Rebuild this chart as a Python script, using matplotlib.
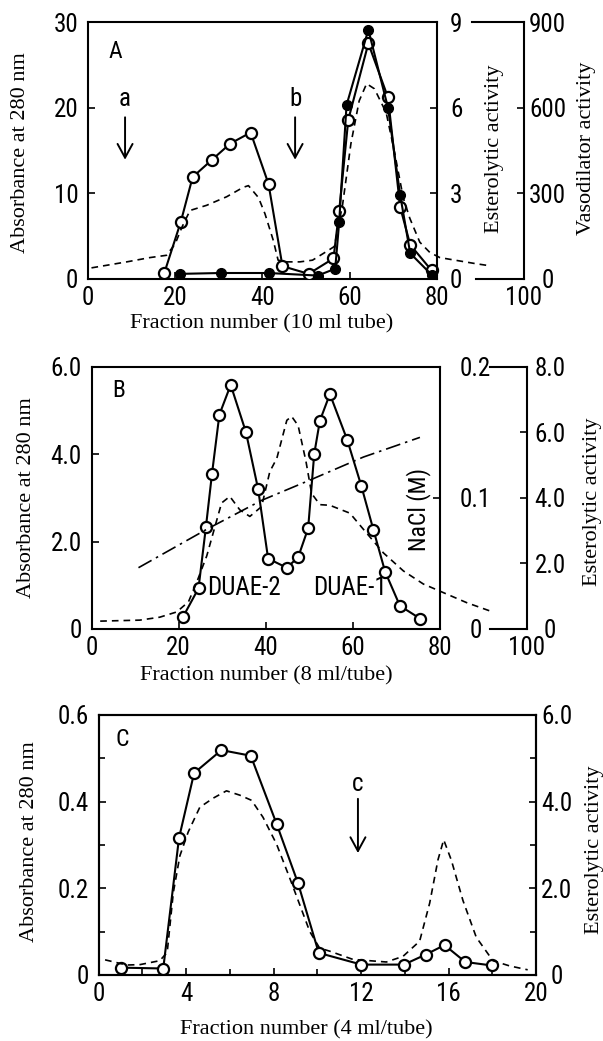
import matplotlib
matplotlib.use("Agg")
import matplotlib.pyplot as plt
from matplotlib import font_manager as fm

W, H = 603, 1041

# ---- Panel A: 10 ml fractions ----
a_abs_x = [17.5, 21.3, 24.0, 28.4, 32.6, 37.3, 41.4, 44.6, 50.6, 56.3, 57.6, 59.7, 64.3, 68.8, 71.6, 73.9, 78.8]
a_abs_y = [0.7, 6.7, 11.9, 13.9, 15.8, 17.1, 11.1, 1.5, 0.6, 2.4, 7.9, 18.6, 27.5, 21.2, 8.4, 4.0, 1.0]
a_vaso_x = [21.2, 30.5, 41.4, 52.7, 56.7, 57.6, 59.3, 64.3, 68.8, 71.6, 73.9, 78.8]
a_vaso_y = [18, 21, 21, 12, 36, 198, 609, 873, 600, 294, 90, 15]
a_est_x = [0.8, 8.9, 14.2, 18.0, 20.0, 21.5, 23.4, 27.2, 31.8, 35.6, 36.8, 39.1, 40.6, 42.5, 43.6,
           45.6, 48.6, 51.5, 55.3, 56.5, 58.4, 60.3, 62.2, 63.9, 65.7, 68.4, 70.3, 72.3, 73.8,
           76.1, 78.4, 80.7, 83.0, 88.8, 91.4]
a_est_y = [0.39, 0.6, 0.75, 0.83, 1.23, 1.8, 2.4, 2.58, 2.88, 3.21, 3.27, 2.85, 2.28, 1.35, 0.66,
           0.6, 0.6, 0.66, 1.02, 1.14, 2.61, 4.74, 6.24, 6.84, 6.66, 5.82, 4.44, 2.85, 2.13,
           1.29, 0.93, 0.75, 0.69, 0.54, 0.48]
a_arrow_x = [8.5, 47.5]
a_arrow_lbl = ["a", "b"]

# ---- Panel B: 8 ml fractions ----
b_abs_x = [21.0, 24.6, 26.3, 27.7, 29.4, 32.0, 35.5, 38.3, 40.6, 44.9, 47.5, 49.8, 51.2, 52.5,
           54.8, 58.8, 62.0, 64.8, 67.5, 70.9, 75.5]
b_abs_y = [0.27, 0.93, 2.33, 3.55, 4.9, 5.58, 4.5, 3.2, 1.61, 1.40, 1.64, 2.30, 4.0, 4.76,
           5.37, 4.32, 3.28, 2.27, 1.31, 0.53, 0.24]
b_est_x = [2.0, 11.1, 15.7, 19.6, 22.3, 24.2, 26.5, 28.4, 29.9, 31.8, 34.1, 36.4, 39.1, 41.0,
           42.6, 44.9, 46.0, 47.5, 49.3, 50.6, 52.5, 54.8, 59.4, 62.5, 67.1, 71.7, 76.3, 86.3, 91.6]
b_est_y = [0.24, 0.27, 0.36, 0.52, 0.83, 1.43, 2.23, 3.13, 3.84, 4.04, 3.63, 3.43, 3.73, 4.8,
           5.2, 6.36, 6.48, 6.2, 5.11, 4.13, 3.79, 3.77, 3.53, 3.04, 2.32, 1.77, 1.37, 0.8, 0.55]
b_nacl_x = [10.8, 26.5, 39.1, 50.6, 62.5, 75.5]
b_nacl_y = [0.0467, 0.076, 0.098, 0.114, 0.131, 0.146]

# ---- Panel C: 4 ml fractions ----
c_abs_x = [1.01, 2.96, 3.68, 4.37, 5.62, 6.96, 8.14, 9.12, 10.07, 12.02, 13.96, 14.95, 15.82, 16.77, 17.98]
c_abs_y = [0.017, 0.015, 0.316, 0.466, 0.519, 0.506, 0.349, 0.212, 0.051, 0.024, 0.024, 0.047, 0.069, 0.030, 0.022]
c_est_x = [0.3, 1.29, 1.9, 2.8, 3.14, 3.42, 3.72, 4.1, 4.63, 5.24, 5.85, 6.46, 7.0, 7.52, 8.14,
           8.74, 9.2, 9.66, 10.11, 10.57, 11.63, 13.16, 13.92, 14.68, 15.14, 15.52, 15.78,
           16.13, 16.66, 17.27, 18.03, 18.79, 19.62]
c_est_y = [0.35, 0.23, 0.24, 0.33, 0.52, 1.9, 2.75, 3.3, 3.87, 4.08, 4.25, 4.15, 4.03, 3.64, 3.02,
           2.24, 1.62, 1.0, 0.62, 0.55, 0.36, 0.30, 0.43, 0.78, 1.66, 2.66, 3.12,
           2.65, 1.72, 0.87, 0.33, 0.21, 0.12]
c_arrow_x = 11.86

# pick a narrow sans for the typewriter-like digits if one is installed
NARROW = {"family": ["DejaVu Sans"], "stretch": "normal"}
_fonts = fm.fontManager.ttflist
_names = {f.name for f in _fonts}
for cand in ["Liberation Sans Narrow", "Roboto Condensed", "Open Sans Condensed",
             "Noto Sans Condensed", "DejaVu Sans Condensed", "Arial Narrow"]:
    if cand in _names:
        NARROW = {"family": [cand, "DejaVu Sans"], "stretch": "normal"}
        break
else:
    for f in _fonts:
        if f.name in ("DejaVu Sans", "Noto Sans", "Roboto", "Open Sans") and \
                str(f.stretch) in ("condensed", "semi-condensed", "extra-condensed"):
            NARROW = {"family": [f.name, "DejaVu Sans"], "stretch": str(f.stretch)}
            break

plt.rcParams["font.family"] = NARROW["family"]
plt.rcParams["font.stretch"] = NARROW["stretch"]
plt.rcParams["font.size"] = 18
SERIF = ["Liberation Serif", "DejaVu Serif"]
LW = 1.5
TICK_FS = 18
DASH = (0, (4, 3))
DASHDOT = (0, (9, 3, 1.5, 3))

fig = plt.figure(figsize=(W / 100, H / 100), dpi=100)


def box(l, t, r, b):
    return [l / W, 1 - b / H, (r - l) / W, (b - t) / H]


def ftext(x, y, s, **kw):
    fig.text(x / W, 1 - y / H, s, ha="center", va="center", **kw)


def serif_label(x, y, s, vertical=True):
    ftext(x, y, s, rotation=90 if vertical else 0, family=SERIF, stretch="normal", fontsize=16)


def style(ax, pad=7):
    ax.tick_params(direction="in", length=5, width=1.2, pad=pad, labelsize=TICK_FS)
    ax.tick_params(which="minor", direction="in", length=4, width=1.2)
    for s in ax.spines.values():
        s.set_linewidth(LW)


def center_right_labels(ax, pad):
    # right-hand scales in the original have their numbers centred in a column
    ax.tick_params(axis="y", which="major", pad=pad)
    for t in ax.get_yticklabels():
        t.set_horizontalalignment("center")


def right_axis(host, pos, lim, ticks, labels, pad):
    a = host.twinx()
    a.set_ylim(*lim)
    for s in ["left", "top", "bottom"]:
        a.spines[s].set_visible(False)
    a.spines["right"].set_position(("axes", pos))
    a.set_yticks(ticks)
    a.set_yticklabels(labels)
    style(a)
    center_right_labels(a, pad)
    return a


def split_frame(ax, ylim, gap_start):
    ax.set_xlim(0, 100)
    ax.set_ylim(*ylim)
    ax.spines["top"].set_visible(False)
    ax.spines["right"].set_visible(False)
    ax.spines["bottom"].set_bounds(0, 80)
    ax.axhline(ylim[1], 0, 0.8, color="k", lw=LW, clip_on=False)
    ax.axhline(ylim[0], gap_start, 1.0, color="k", lw=LW, clip_on=False)
    ax.set_xticks([0, 20, 40, 60, 80, 100])
    style(ax)
    ax.tick_params(axis="x", pad=5)


def arrow(ax, x, y0, y1, lbl, ylbl):
    ax.annotate("", xy=(x, y1), xytext=(x, y0),
                arrowprops=dict(arrowstyle="->,head_length=0.55,head_width=0.3", lw=1.4, color="k"))
    ax.text(x, ylbl, lbl, ha="center", va="center", fontsize=18)


# ---------------- Panel A ----------------
axA = fig.add_axes(box(88, 22, 524, 279))
split_frame(axA, (0, 30), 0.89)
axA.set_yticks([0, 10, 20, 30])
axA2 = right_axis(axA, 0.8, (0, 9), [0, 3, 6, 9], ["0", "3", "6", "9"], 14)
axA3 = right_axis(axA, 1.0, (0, 900), [0, 300, 600, 900], ["0", "300", "600", "900"], 17)
axA3.axhline(900, 0.88, 1.0, color="k", lw=LW, clip_on=False)

axA.plot(a_abs_x, a_abs_y, "-o", color="k", mfc="white", ms=8, mew=1.6, lw=LW, zorder=3)
axA3.plot(a_vaso_x, a_vaso_y, "-o", color="k", mfc="k", ms=7, lw=LW)
axA2.plot(a_est_x, a_est_y, ls=DASH, color="k", lw=1.2)
axA.text(6.2, 26.6, "A", ha="center", va="center", fontsize=17)
for x, lbl in zip(a_arrow_x, a_arrow_lbl):
    arrow(axA, x, 19.2, 13.6, lbl, 21.0)

serif_label(21, 153, "Absorbance at 280 nm")
serif_label(494, 149, "Esterolytic activity")
serif_label(586, 148, "Vasodilator activity")
serif_label(262, 324, "Fraction number (10 ml tube)", vertical=False)

# ---------------- Panel B ----------------
axB = fig.add_axes(box(91.5, 366.5, 526.5, 629))
split_frame(axB, (0, 6), 0.915)
axB.set_yticks([0, 2, 4, 6])
axB.set_yticklabels(["0", "2.0", "4.0", "6.0"])
axB2 = right_axis(axB, 0.8, (0, 0.2), [0, 0.1, 0.2], ["0", "0.1", "0.2"], 26)
axB3 = right_axis(axB, 1.0, (0, 8), [0, 2, 4, 6, 8], ["0", "2.0", "4.0", "6.0", "8.0"], 17)
axB3.axhline(8, 0.915, 1.0, color="k", lw=LW, clip_on=False)

axB.plot(b_abs_x, b_abs_y, "-o", color="k", mfc="white", ms=8, mew=1.6, lw=LW, zorder=3)
axB3.plot(b_est_x, b_est_y, ls=DASH, color="k", lw=1.2)
axB2.plot(b_nacl_x, b_nacl_y, ls=DASHDOT, color="k", lw=1.2)
axB.text(6.2, 5.45, "B", ha="center", va="center", fontsize=17)
axB.text(35.0, 0.93, "DUAE-2", ha="center", va="center", fontsize=18)
axB.text(59.4, 0.93, "DUAE-1", ha="center", va="center", fontsize=18)

serif_label(27, 498, "Absorbance at 280 nm")
ftext(419, 510, "NaCl (M)", rotation=90, fontsize=17)
serif_label(592, 502, "Esterolytic activity")
serif_label(266, 676, "Fraction number (8 ml/tube)", vertical=False)

# ---------------- Panel C ----------------
axC = fig.add_axes(box(98.5, 715, 536, 975))
axC.set_xlim(0, 20)
axC.set_ylim(0, 0.6)
axC.set_xticks([0, 4, 8, 12, 16, 20])
axC.set_xticks([2, 6, 10, 14, 18], minor=True)
axC.set_yticks([0, 0.2, 0.4, 0.6])
axC.set_yticklabels(["0", "0.2", "0.4", "0.6"])
axC.set_yticks([0.1, 0.3, 0.5], minor=True)
style(axC)
axC.tick_params(axis="x", pad=5)
axC2 = axC.twinx()
axC2.set_ylim(0, 6)
axC2.set_yticks([0, 2, 4, 6])
axC2.set_yticklabels(["0", "2.0", "4.0", "6.0"])
axC2.set_yticks([1, 3, 5], minor=True)
style(axC2)
center_right_labels(axC2, 15)

axC.plot(c_abs_x, c_abs_y, "-o", color="k", mfc="white", ms=8, mew=1.6, lw=LW, zorder=3)
axC2.plot(c_est_x, c_est_y, ls=DASH, color="k", lw=1.2)
axC.text(1.1, 0.544, "C", ha="center", va="center", fontsize=17)
arrow(axC, c_arrow_x, 0.413, 0.275, "c", 0.44)

serif_label(29, 842, "Absorbance at 280 nm")
serif_label(595, 850, "Esterolytic activity")
serif_label(306, 1030, "Fraction number (4 ml/tube)", vertical=False)

fig.savefig("out.png", dpi=100)
